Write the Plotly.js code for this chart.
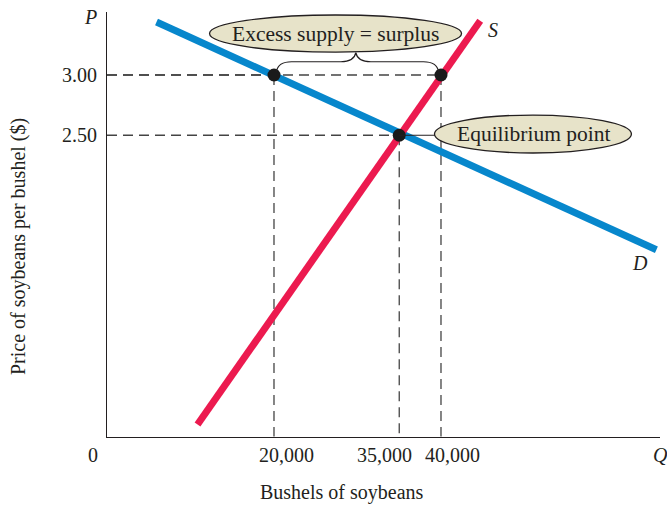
<!DOCTYPE html>
<html><head><meta charset="utf-8">
<script src="https://cdn.plot.ly/plotly-3.0.1.min.js"></script>
<style>html,body{margin:0;padding:0;background:#fff}</style>
</head><body>
<div id="chart" style="width:667px;height:507px"></div>
<script>
// ---- data ----
const demandQ = [5930, 65800];
const demandP = [3.44, 1.55];
const supplyQ = [10840, 44700];
const supplyP = [0.10, 3.45];
const pointQ = [20000, 40000, 35000];
const pointP = [3.00, 3.00, 2.50];
const qTickVals = [20000, 35000, 40000];
const qTickText = ['20,000', '35,000', '40,000'];
const pTickVals = [3.00, 2.50];
const pTickText = ['3.00', '2.50'];
const surplusLabel = 'Excess supply = surplus';
const equilibriumLabel = 'Equilibrium point';
const xTitle = 'Bushels of soybeans';
const yTitle = 'Price of soybeans per bushel ($)';

// ---- style ----
const FONT = 'Liberation Serif, Times New Roman, serif';
const INK = '#231f20';
const BLUE = '#0787cc';
const RED = '#ec1a4f';
const BEIGE = '#e7e3c9';
const GUIDE = {color: '#444444', width: 1.3, dash: '10px,6px'};

const traces = [
  {x: demandQ, y: demandP, mode: 'lines', line: {color: BLUE, width: 7}, hoverinfo: 'skip'},
  {x: supplyQ, y: supplyP, mode: 'lines', line: {color: RED, width: 7}, hoverinfo: 'skip'},
  {x: pointQ, y: pointP, mode: 'markers', marker: {color: '#1a1a1a', size: 13}, hoverinfo: 'skip'}
];

const shapes = [];
// dashed guides from each marked point to the axes
pointQ.forEach((q, i) => {
  const p = pointP[i];
  shapes.push({type: 'line', xref: 'x', yref: 'y', x0: 0, y0: p, x1: q, y1: p, line: GUIDE, layer: 'below'});
  shapes.push({type: 'line', xref: 'x', yref: 'y', x0: q, y0: p, x1: q, y1: 0, line: GUIDE, layer: 'below'});
});
// brace over the surplus
const bL = pointQ[0] + 300, bR = pointQ[1] - 300, bM = (pointQ[0] + pointQ[1]) / 2 - 200, bp = pointP[0];
const yLow = bp + 0.03, yMid = bp + 0.11, yTip = bp + 0.185;
shapes.push({type: 'path', xref: 'x', yref: 'y', line: {color: INK, width: 1.2},
  path: `M ${bL} ${yLow} Q ${bL + 200} ${yMid} ${bL + 1800} ${yMid} L ${bM - 1800} ${yMid} Q ${bM - 200} ${yMid} ${bM} ${yTip} Q ${bM + 200} ${yMid} ${bM + 1800} ${yMid} L ${bR - 1800} ${yMid} Q ${bR - 200} ${yMid} ${bR} ${yLow}`});
// surplus callout ellipse
shapes.push({type: 'circle', xref: 'x', yref: 'y', x0: 12280, x1: 42460, y0: 3.19, y1: 3.498,
  fillcolor: BEIGE, line: {color: INK, width: 1.3}});
// equilibrium connector and callout
shapes.push({type: 'line', xref: 'x', yref: 'y', x0: pointQ[2], y0: pointP[2], x1: 39300, y1: pointP[2],
  line: {color: INK, width: 1.2}});
shapes.push({type: 'circle', xref: 'x', yref: 'y', x0: 39220, x1: 62810, y0: 2.353, y1: 2.668,
  fillcolor: BEIGE, line: {color: INK, width: 1.3}});

const f = (size, italic) => ({family: FONT, size: size, color: INK, style: italic ? 'italic' : 'normal'});
const annotations = [];
qTickVals.forEach((q, i) => {
  annotations.push({xref: 'x', yref: 'paper', x: q, y: 0, xshift: [13, -15, 12][i], yshift: -18,
    text: qTickText[i], showarrow: false, font: f(20), xanchor: 'center', yanchor: 'middle'});
});
pTickVals.forEach((p, i) => {
  annotations.push({xref: 'paper', yref: 'y', x: 0, y: p, xshift: -8, text: pTickText[i], showarrow: false,
    font: f(20), xanchor: 'right', yanchor: 'middle'});
});
annotations.push({xref: 'paper', yref: 'paper', x: 0, y: 0, xshift: -14, yshift: -18, text: '0', showarrow: false, font: f(20), xanchor: 'center', yanchor: 'middle'});
annotations.push({xref: 'paper', yref: 'paper', x: 1, y: 0, xshift: 0, yshift: -18, text: 'Q', showarrow: false, font: f(20, true), xanchor: 'center', yanchor: 'middle'});
annotations.push({xref: 'paper', yref: 'paper', x: 0, y: 1, xshift: -17, yshift: -5, text: 'P', showarrow: false, font: f(20, true), xanchor: 'center', yanchor: 'middle'});
annotations.push({xref: 'x', yref: 'y', x: 46200, y: 3.373, text: 'S', showarrow: false, font: f(20, true), xanchor: 'center', yanchor: 'middle'});
annotations.push({xref: 'x', yref: 'y', x: 63800, y: 1.44, text: 'D', showarrow: false, font: f(20, true), xanchor: 'center', yanchor: 'middle'});
annotations.push({xref: 'x', yref: 'y', x: 27370, y: 3.344, text: surplusLabel, showarrow: false, font: f(21.5), xanchor: 'center', yanchor: 'middle'});
annotations.push({xref: 'x', yref: 'y', x: 51170, y: 2.51, text: equilibriumLabel, showarrow: false, font: f(21.5), xanchor: 'center', yanchor: 'middle'});
annotations.push({xref: 'paper', yref: 'paper', x: (342 - 107) / 553, y: 0, yshift: -55, text: xTitle, showarrow: false, font: f(20), xanchor: 'center', yanchor: 'middle'});
annotations.push({xref: 'paper', yref: 'paper', x: 0, xshift: -89, y: (437 - 247) / 425, text: yTitle, textangle: -90, showarrow: false, font: f(20), xanchor: 'center', yanchor: 'middle'});

const layout = {
  width: 667, height: 507,
  margin: {l: 107, r: 7, t: 12, b: 70},
  paper_bgcolor: '#fff', plot_bgcolor: '#fff',
  showlegend: false,
  xaxis: {range: [0, 66230], showgrid: false, zeroline: false, showticklabels: false, ticks: '',
    showline: true, linecolor: INK, linewidth: 1.3, fixedrange: true},
  yaxis: {range: [-0.004, 3.523], showgrid: false, zeroline: false, showticklabels: false, ticks: '',
    showline: true, linecolor: INK, linewidth: 1.3, fixedrange: true},
  shapes: shapes,
  annotations: annotations
};

Plotly.newPlot('chart', traces, layout, {displayModeBar: false, staticPlot: true});
</script>
</body></html>
